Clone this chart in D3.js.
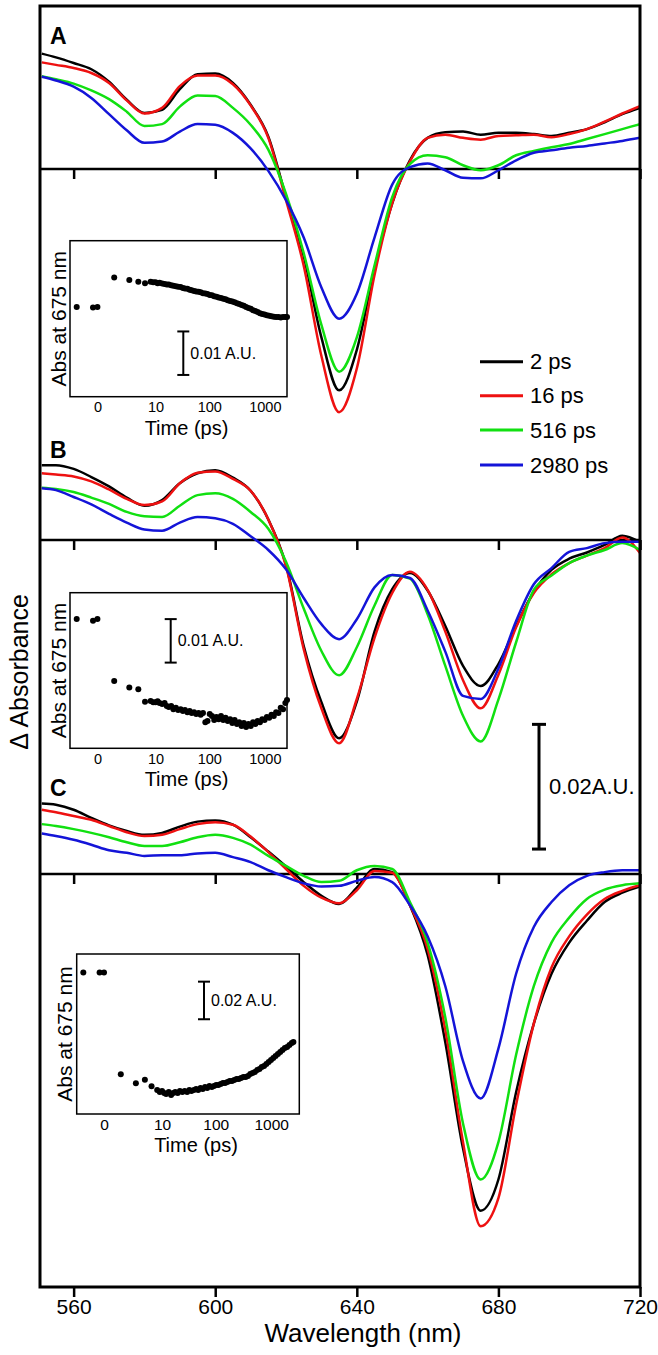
<!DOCTYPE html>
<html><head><meta charset="utf-8">
<script src="https://cdn.jsdelivr.net/npm/d3@7"></script>
<style>
body{margin:0;background:#fff}
svg{display:block}
text{font-family:"Liberation Sans",Arial,Helvetica,sans-serif;fill:#000}
</style>
</head><body>
<svg id="chart" width="658" height="1355"></svg>
<script>
// ---------------- DATA ----------------
const wavelengths = [551,555,560,565,570,575,580,585,590,595,600,605,610,615,620,625,630,635,640,645,650,655,660,665,670,675,680,685,690,695,700,705,710,715,720];
const delayLabels = ["2 ps","16 ps","516 ps","2980 ps"];
const xTicks = [560,600,640,680,720];
const panelLabels = ["A","B","C"];

// Panel A (mA.U.)
const A_2ps   = [18.5,17.9,17.0,16.0,14.0,11.1,9.0,9.5,12.8,15.2,15.3,13.8,10.3,5.2,-4.5,-14,-27,-35.5,-29,-16,-5.5,1.4,5.0,5.9,6.0,5.5,5.8,5.8,5.6,5.3,5.8,6.4,7.5,8.8,9.8];
const A_16ps  = [17.1,16.7,16.2,15.4,13.8,11.0,8.9,9.8,13.3,15.0,15.0,13.6,10.2,5.0,-5.0,-15.5,-30,-39,-32,-17,-5.5,1.2,5.0,5.5,5.0,4.7,5.3,5.4,5.5,5.1,5.6,6.4,7.6,8.9,10.1];
const A_516ps = [14.9,14.4,13.7,12.6,11.2,9.2,6.9,7.2,10.0,11.8,11.7,9.8,7.1,3.1,-4.0,-13.5,-25,-32.5,-27,-15.5,-4.5,0.8,2.2,1.9,0.6,-0.2,0.6,2.2,2.9,3.5,4.0,4.8,5.6,6.4,7.2];
const A_2980ps= [14.8,14.2,13.2,11.4,8.8,6.2,4.2,4.4,6.0,7.2,7.1,5.8,3.3,-0.3,-5.0,-11,-19,-24,-20,-11,-2.5,0.3,0.9,-0.2,-1.4,-1.5,-0.2,1.4,2.6,3.0,3.4,3.7,4.1,4.5,5.0];

// Panel B (mA.U.)
const B_2ps   = [12.0,12.0,11.4,10.1,8.6,6.8,5.5,6.4,9.1,10.7,11.2,10.0,7.9,3.3,-4.0,-17,-26,-31.8,-25.9,-14.7,-7.9,-5.3,-8.1,-13.8,-20.2,-23.4,-19.9,-13.8,-8.3,-4.8,-3.0,-2.0,-0.8,0.7,-0.3];
const B_16ps  = [10.7,10.5,10.2,9.4,8.1,6.6,5.6,6.2,9.1,10.8,11.0,9.8,7.9,3.3,-4.2,-17.5,-27,-32.6,-25.5,-15.7,-8.5,-5.1,-8.0,-14.7,-22.5,-27.0,-21.6,-14.0,-8.5,-5.5,-3.7,-2.5,-1.3,0.4,-2.1];
const B_516ps = [8.4,8.2,7.7,6.8,5.8,4.5,3.8,3.7,5.5,7.2,7.5,6.6,4.5,1.8,-3.5,-11.0,-17.8,-21.7,-17.2,-10.5,-5.6,-6.2,-11.9,-20.2,-28.2,-32.3,-25.6,-16.4,-8.0,-5.7,-3.7,-2.5,-1.6,-0.5,-1.6];
const B_2980ps= [8.3,8.0,6.9,5.7,4.2,2.8,1.7,1.5,2.8,3.7,3.5,2.6,0.6,-1.6,-4.7,-9.3,-13.5,-15.9,-12.7,-7.6,-5.6,-6.1,-11.3,-17.9,-25.0,-25.5,-20.6,-13.0,-7.1,-4.5,-1.9,-1.3,-0.5,-0.3,-0.3];

// Panel C (mA.U.)
const C_2ps   = [11.3,11.1,10.3,9.0,7.8,6.9,6.3,6.6,7.6,8.4,8.6,7.9,5.9,3.6,1.2,-1.3,-3.5,-4.8,-2.2,0.8,0.3,-5,-13,-27,-44,-54,-49,-35,-24,-16,-11,-7.5,-4.5,-3.0,-2.0];
const C_16ps  = [10.3,9.9,9.3,8.7,7.7,6.7,6.1,6.3,7.2,8.0,8.3,7.9,6.0,3.5,0.8,-1.9,-3.8,-4.7,-2.6,0.5,0.2,-5,-12,-25,-43,-56.5,-52,-37,-24,-15,-10,-6.5,-4.0,-2.7,-1.8];
const C_516ps = [8.0,7.7,7.2,6.6,5.9,5.1,4.5,4.5,5.1,5.9,6.3,5.8,4.7,2.9,1.3,-0.3,-1.3,-1.1,0.6,1.3,0.8,-4.5,-11,-23,-40,-49,-43,-29,-18,-11,-7,-4.0,-2.5,-1.8,-1.5];
const C_2980ps= [6.5,6.1,5.5,4.7,3.8,3.4,2.9,3.0,3.0,3.3,3.4,2.7,1.9,0.6,-0.5,-1.5,-2.0,-1.9,-1.1,-0.5,-1.3,-5,-10,-18,-30,-36,-28,-16,-8.5,-4.5,-1.8,-0.3,0.3,0.6,0.6];

// Insets: kinetics at 675 nm
const insetTimes = [-1.35,-0.2,0,1,2.73,4.41,6.13,8,9,10,11,12,13.5,15,16.5,18,20,22,24.5,27,30,33,36,40,44,48,53,58,64,70,77,85,93,102,112,123,135,148,163,179,197,216,238,261,287,316,347,382,420,462,508,559,615,676,744,818,900,990,1089,1198,1318,1450,1595,1754,1930,2123,2335,2500];
const insetTicks = [0,10,100,1000];
const insetA = [20.6,20.5,20.6,27.4,26.8,26.4,26.1,
 26.4,26.3,26.3,26.1,26.2,26.0,25.9,25.8,25.8,25.6,
 25.5,25.4,25.3,25.2,25.0,24.9,24.8,24.6,24.5,24.3,
 24.2,24.1,24.0,23.8,23.7,23.6,23.4,23.3,23.1,23.0,
 22.8,22.7,22.5,22.4,22.2,22.0,21.9,21.7,21.5,21.3,
 21.1,20.9,20.6,20.4,20.2,19.9,19.7,19.5,19.2,19.0,
 18.9,18.7,18.6,18.5,18.4,18.3,18.3,18.2,18.3,18.3,18.3];
const insetB = [29.7,29.3,29.7,15.5,14.0,13.6,10.7,
 10.9,10.6,10.6,10.8,10.4,10.2,10.4,9.7,9.5,9.7,
 9.0,9.3,8.8,9.0,8.6,8.8,8.3,8.6,8.1,8.3,
 7.9,8.1,7.7,8.1,6.0,6.3,7.9,7.4,6.5,7.2,
 6.7,7.4,6.5,7.0,6.3,6.7,5.8,6.5,5.6,6.0,
 5.1,5.8,4.9,5.6,5.1,6.0,5.6,6.3,6.0,6.7,
 6.5,7.2,7.0,7.7,7.4,8.3,8.1,9.3,9.0,10.4,11.1];
const insetC = [75.2,75.2,75.2,21.1,16.3,18.2,14.7,
 12.8,11.7,12.2,11.2,10.6,11.7,10.1,11.2,11.7,11.2,
 12.2,11.7,12.2,11.7,12.8,12.2,12.8,13.3,12.8,13.8,
 13.3,14.4,13.8,14.9,14.4,14.9,15.4,15.4,16.0,16.5,
 16.5,17.0,17.6,17.6,18.1,18.6,18.6,19.1,19.7,19.7,
 20.2,21.3,21.8,22.3,23.4,23.9,25.0,25.5,26.6,27.7,
 28.7,29.8,30.9,31.9,33.0,34.0,35.1,35.6,36.7,37.8,38.3];

// ---------------- DRAWING ----------------
const svg = d3.select("#chart");
const colors = ["#000000","#ee1111","#11e011","#1414d8"];
const frame = {l:40, r:640, t:6, b:1287};
const x = d3.scaleLinear().domain([550.5,720]).range([frame.l, frame.r]);
const pxPerMAU = 6.235;
const baselines = [169, 540, 874];
const panelScales = baselines.map(b => d3.scaleLinear().domain([0,1]).range([b, b - pxPerMAU]));
const panelSeries = [
  [A_2ps, A_16ps, A_516ps, A_2980ps],
  [B_2ps, B_16ps, B_516ps, B_2980ps],
  [C_2ps, C_16ps, C_516ps, C_2980ps]
];

svg.append("defs").append("clipPath").attr("id","fclip")
  .append("rect").attr("x",frame.l).attr("y",frame.t)
  .attr("width",frame.r-frame.l).attr("height",frame.b-frame.t);

// baselines with inward ticks
baselines.forEach(b => {
  const g = svg.append("g").attr("transform",`translate(0,${b})`)
    .call(d3.axisBottom(x).tickValues(xTicks).tickSize(10).tickSizeOuter(0).tickFormat(""));
  g.select(".domain").remove();
  g.selectAll(".tick line").attr("stroke","#000").attr("stroke-width",2.5);
  svg.append("line").attr("x1",frame.l).attr("x2",frame.r).attr("y1",b).attr("y2",b)
    .attr("stroke","#000").attr("stroke-width",2.5);
});

// curves
const curveG = svg.append("g").attr("clip-path","url(#fclip)");
panelSeries.forEach((series, pi) => {
  const y = panelScales[pi];
  const line = d3.line().x(d => x(d[0])).y(d => y(d[1])).curve(d3.curveMonotoneX);
  series.forEach((vals, si) => {
    curveG.append("path")
      .datum(wavelengths.map((w,i) => [w, vals[i]]))
      .attr("d", line).attr("fill","none")
      .attr("stroke", colors[si]).attr("stroke-width",2.5)
      .attr("stroke-linejoin","round");
  });
});

// frame
svg.append("rect").attr("x",frame.l).attr("y",frame.t)
  .attr("width",frame.r-frame.l).attr("height",frame.b-frame.t)
  .attr("fill","none").attr("stroke","#000").attr("stroke-width",3);

// bottom axis
const bax = svg.append("g").attr("transform",`translate(0,${frame.b})`)
  .call(d3.axisBottom(x).tickValues(xTicks).tickSize(10).tickPadding(2.5).tickSizeOuter(0));
bax.select(".domain").remove();
bax.selectAll(".tick line").attr("stroke","#000").attr("stroke-width",2.5);
bax.selectAll(".tick text").attr("font-size",21).attr("font-family","Liberation Sans, Arial, sans-serif").attr("fill","#000");

svg.append("text").attr("x",363).attr("y",1342).attr("text-anchor","middle")
  .attr("font-size",26).text("Wavelength (nm)");
svg.append("text").attr("transform","translate(19,672) rotate(-90)")
  .attr("text-anchor","middle").attr("dominant-baseline","central")
  .attr("font-size",25).text("\u0394 Absorbance");

// panel labels
[44, 458, 796].forEach((yy,i) => {
  svg.append("text").attr("x",50).attr("y",yy).attr("font-size",23)
    .attr("font-weight","bold").text(panelLabels[i]);
});

// legend
const legY = [361.7, 395.7, 430, 465];
delayLabels.forEach((lab,i) => {
  svg.append("line").attr("x1",480).attr("x2",523).attr("y1",legY[i]).attr("y2",legY[i])
    .attr("stroke",colors[i]).attr("stroke-width",3);
  svg.append("text").attr("x",530).attr("y",legY[i]).attr("dominant-baseline","central")
    .attr("font-size",22).text(lab);
});

// main scale bar (0.02 A.U. = 20 mA.U.) using panel C scale
{
  const y = panelScales[2];
  const bx = 539, y0 = y(4), y1 = y(24);
  svg.append("line").attr("x1",bx).attr("x2",bx).attr("y1",y0).attr("y2",y1).attr("stroke","#000").attr("stroke-width",3);
  [y0,y1].forEach(yy => svg.append("line").attr("x1",bx-7).attr("x2",bx+7).attr("y1",yy).attr("y2",yy).attr("stroke","#000").attr("stroke-width",3));
  svg.append("text").attr("x",549).attr("y",(y0+y1)/2).attr("dominant-baseline","central")
    .attr("font-size",22).text("0.02A.U.");
}

// insets
const insetSpecs = [
  {box:[70,240.7,287,396.7], tdom:[-2.1,2500], vals:insetA, ppm:4.35, bar:[183.3,5,15], barLabel:"0.01 A.U.", tick:14.5},
  {box:[70,592.7,287,748.3], tdom:[-2.1,2500], vals:insetB, ppm:4.35, bar:[170.7,19.7,29.7], barLabel:"0.01 A.U.", tick:14.5},
  {box:[76.7,954,299.3,1114], tdom:[-2.09,3190], vals:insetC, ppm:1.88, bar:[204,50.4,70.4], barLabel:"0.02 A.U.", tick:15.5}
];
insetSpecs.forEach(s => {
  const [l,t,r,b] = s.box;
  const g = svg.append("g");
  g.append("rect").attr("x",l).attr("y",t).attr("width",r-l).attr("height",b-t)
    .attr("fill","#fff").attr("stroke","#000").attr("stroke-width",1.5);
  const xs = d3.scaleSymlog().constant(1).domain(s.tdom).range([l,r]);
  const ys = d3.scaleLinear().domain([0,1]).range([b, b - s.ppm]);
  g.selectAll("circle").data(insetTimes.map((tt,i)=>[tt,s.vals[i]])).join("circle")
    .attr("cx",d=>xs(d[0])).attr("cy",d=>ys(d[1])).attr("r",3).attr("fill","#000");
  const ax = g.append("g").attr("transform",`translate(0,${b})`)
    .call(d3.axisBottom(xs).tickValues(insetTicks).tickSize(0).tickPadding(5).tickFormat(d3.format("d")));
  ax.select(".domain").remove();
  ax.selectAll(".tick text").attr("font-size",s.tick).attr("font-family","Liberation Sans, Arial, sans-serif").attr("fill","#000");
  g.append("text").attr("x",(l+r)/2+8).attr("y",b+38).attr("text-anchor","middle")
    .attr("font-size",20).text("Time (ps)");
  g.append("text").attr("transform",`translate(${l-12},${(t+b)/2}) rotate(-90)`)
    .attr("text-anchor","middle").attr("dominant-baseline","central")
    .attr("font-size",21).text("Abs at 675 nm");
  const [bx,v0,v1] = s.bar;
  const y0 = ys(v0), y1 = ys(v1);
  g.append("line").attr("x1",bx).attr("x2",bx).attr("y1",y0).attr("y2",y1).attr("stroke","#000").attr("stroke-width",2);
  [y0,y1].forEach(yy => g.append("line").attr("x1",bx-6).attr("x2",bx+6).attr("y1",yy).attr("y2",yy).attr("stroke","#000").attr("stroke-width",2));
  g.append("text").attr("x",bx+7).attr("y",(y0+y1)/2).attr("dominant-baseline","central")
    .attr("font-size",16).text(s.barLabel);
});
</script>
</body></html>
